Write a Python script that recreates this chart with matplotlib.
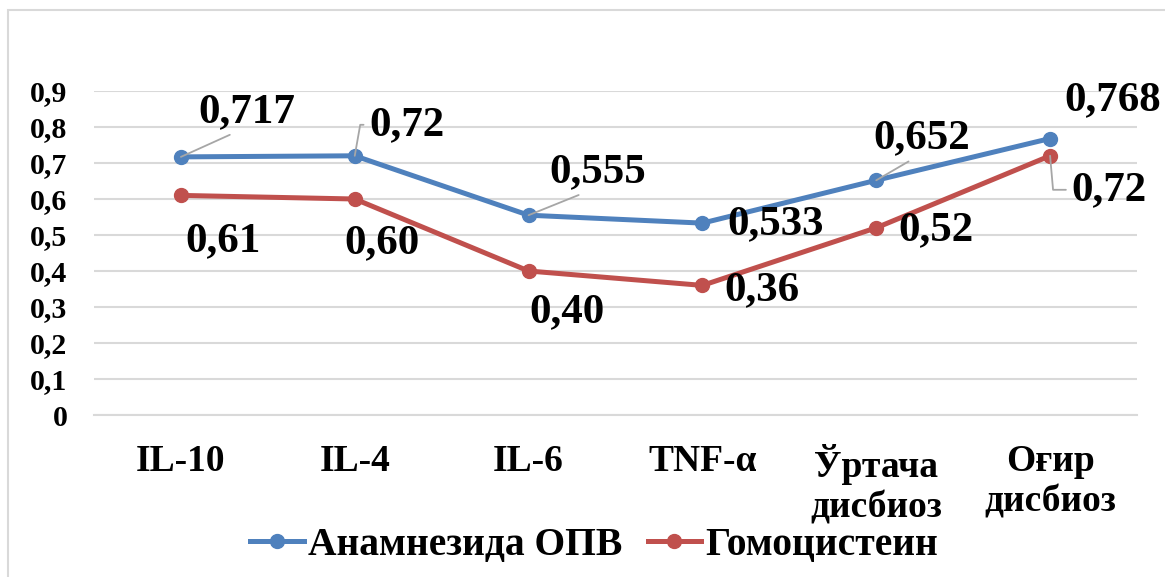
import matplotlib
matplotlib.use('Agg')
import matplotlib.pyplot as plt
from matplotlib.patches import Rectangle
from matplotlib.lines import Line2D

plt.rcParams['font.family'] = ['Liberation Serif', 'DejaVu Serif']
plt.rcParams['font.weight'] = 'bold'

categories = ['IL-10', 'IL-4', 'IL-6', 'TNF-α', 'Ўртача\nдисбиоз', 'Оғир\nдисбиоз']
opv_values = [0.717, 0.72, 0.555, 0.533, 0.652, 0.768]
hcy_values = [0.61, 0.60, 0.40, 0.36, 0.52, 0.72]
opv_labels = ['0,717', '0,72', '0,555', '0,533', '0,652', '0,768']
hcy_labels = ['0,61', '0,60', '0,40', '0,36', '0,52', '0,72']
yticks = [0, 0.1, 0.2, 0.3, 0.4, 0.5, 0.6, 0.7, 0.8, 0.9]
ytick_labels = ['0', '0,1', '0,2', '0,3', '0,4', '0,5', '0,6', '0,7', '0,8', '0,9']

BLUE = '#4F81BD'
RED = '#C0504D'
GRID = '#D9D9D9'
LEADER = '#A6A6A6'

W, H = 1165, 577
fig = plt.figure(figsize=(W / 100, H / 100), dpi=100)
ax = fig.add_axes([94 / W, (H - 415) / H, (1137 - 94) / W, (415 - 91) / H])

# outer chart frame
fig.patches.append(Rectangle((8 / W, -0.1), 1.2, 0.1 + (H - 10) / H,
                             transform=fig.transFigure, fill=False,
                             edgecolor=GRID, linewidth=1.5))

x = list(range(len(categories)))
ax.plot(x, opv_values, color=BLUE, lw=3.6, marker='o', ms=10, zorder=3)
ax.plot(x, hcy_values, color=RED, lw=3.6, marker='o', ms=10, zorder=3)

ax.set_xlim(-0.5, len(categories) - 0.5)
ax.set_ylim(0, 0.9)
ax.set_yticks(yticks)
ax.set_yticklabels(ytick_labels, fontsize=21.5, fontweight='bold')
ax.set_xticks(x)
ax.set_xticklabels(categories, fontsize=27, fontweight='bold', linespacing=1.2)
ax.tick_params(axis='y', length=0, pad=19)
ax.tick_params(axis='x', length=0, pad=21)
ax.grid(axis='y', color=GRID, lw=1.5)
ax.set_axisbelow(True)
for s in ['top', 'right', 'left']:
    ax.spines[s].set_visible(False)
ax.spines['bottom'].set_color(GRID)
ax.spines['bottom'].set_linewidth(1.5)

# data labels: (dx, dy) in pixels, optional leader line
opv_offsets = [(66, 45), (52, 31), (69, 43), (73, -1), (46, 42), (63, 38)]
hcy_offsets = [(42, -46), (27, -44), (38, -41), (60, -5), (60, -2), (59, -34)]
opv_leader = ['straight', 'elbow', 'straight', None, 'straight', None]
hcy_leader = [None, None, None, None, None, 'elbow_down']


def add_labels(vals, texts, offsets, leaders):
    for i, (v, t, (dx, dy), ld) in enumerate(zip(vals, texts, offsets, leaders)):
        props = None
        if ld == 'straight':
            props = dict(arrowstyle='-', color=LEADER, lw=1.3, shrinkA=2, shrinkB=0,
                         relpos=(0.5, 0.1))
        elif ld == 'elbow':
            props = dict(arrowstyle='-', color=LEADER, lw=1.3, shrinkA=2, shrinkB=0,
                         relpos=(0, 0.5), connectionstyle='angle,angleA=0,angleB=80,rad=0')
        elif ld == 'elbow_down':
            props = dict(arrowstyle='-', color=LEADER, lw=1.3, shrinkA=2, shrinkB=0,
                         relpos=(0, 0.5), connectionstyle='angle,angleA=0,angleB=-85,rad=0')
        ax.annotate(t, xy=(i, v), xytext=(dx, dy), textcoords='offset pixels',
                    ha='center', va='center', fontsize=31, fontweight='bold',
                    arrowprops=props, zorder=4)


add_labels(opv_values, opv_labels, opv_offsets, opv_leader)
add_labels(hcy_values, hcy_labels, hcy_offsets, hcy_leader)

handles = [Line2D([], [], color=BLUE, lw=3.6, marker='o', ms=10),
           Line2D([], [], color=RED, lw=3.6, marker='o', ms=10)]
fig.legend(handles, ['Анамнезида ОПВ', 'Гомоцистеин'], loc='center',
           bbox_to_anchor=(594 / W, (H - 545) / H), ncol=2, frameon=False,
           prop=dict(size=28.5, weight='bold'), handlelength=1.35, handletextpad=0.1,
           columnspacing=0.65, borderpad=0)

fig.savefig('out.png', dpi=100, facecolor='white')
